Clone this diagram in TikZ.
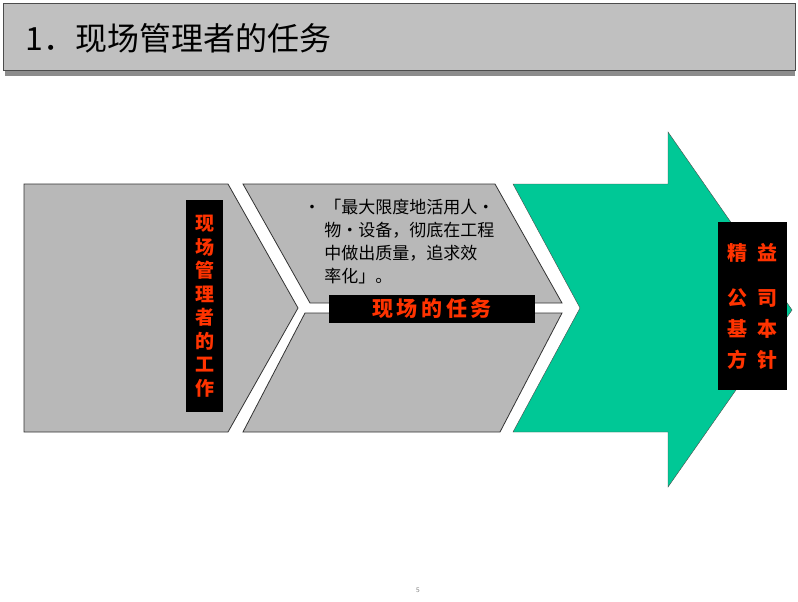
\documentclass[tikz,border=0pt]{standalone}
\usepackage{fontspec}
\newfontfamily\cjk{Noto Sans CJK SC}
\definecolor{hdr}{HTML}{C0C0C0}
\definecolor{shp}{HTML}{B8B8B8}
\definecolor{grn}{HTML}{00C896}
\definecolor{rd}{HTML}{FF3300}
\begin{document}
\begin{tikzpicture}[x=1pt,y=-1pt,
  panel/.style={draw=black!80,line width=0.8pt},
  blk/.style={fill=black,inner sep=0pt,text=rd,font=\cjk\bfseries\fontsize{19}{23.5}\selectfont,align=center}]
\useasboundingbox (0,0) rectangle (798,602);
\fill[white] (0,0) rectangle (798,602);
% header
\fill[black!45] (5,68) rectangle (795,76);
\filldraw[fill=hdr,draw=black!70] (3,3) rectangle (795,70);
\node[anchor=west,font=\cjk\fontsize{32}{36}\selectfont] (title) at (22,38) {1．现场管理者的任务};
% shapes
\filldraw[panel,fill=shp] (24,184) -- (228,184) -- (298,308) -- (228,432) -- (24,432) -- cycle;
\filldraw[panel,fill=shp] (243,184) -- (495,184) -- (562,303) -- (310,303) -- cycle;
\filldraw[panel,fill=shp] (305,313) -- (562,313) -- (500,432) -- (243,432) -- cycle;
\filldraw[draw=black!70,fill=grn] (513,184) -- (668,184) -- (668,132) -- (792,310) -- (668,487) -- (668,432) -- (513,432) -- (580,308) -- cycle;
% boxes
\node[blk,minimum width=37pt,minimum height=212pt] (left) at (204.5,306) {现\\场\\管\\理\\者\\的\\工\\作};
\node[blk,minimum width=206pt,minimum height=28pt,font=\cjk\bfseries\fontsize{21}{24}\selectfont] (mid) at (432,309) {现\,场\,的\,任\,务};
\node[blk,minimum width=69pt,minimum height=168pt,font=\cjk\bfseries\fontsize{20}{31}\selectfont] (right) at (752.5,306) {精\enspace 益\\[14pt]公\enspace 司\\基\enspace 本\\方\enspace 针};
\node[anchor=north west,align=left,font=\cjk\fontsize{17}{23}\selectfont] (txt) at (300,196)
 {•\ 「最大限度地活用人·\\\phantom{•\ }物·设备，彻底在工程\\\phantom{•\ }中做出质量，追求效\\\phantom{•\ }率化」。};
\node[font=\sffamily\fontsize{7}{8}\selectfont,text=black!50] (pg) at (418,590) {5};
\end{tikzpicture}
\end{document}
